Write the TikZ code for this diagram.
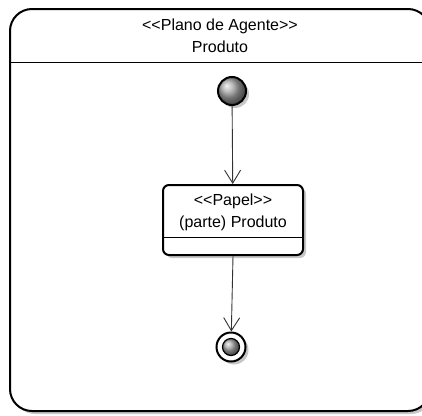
\documentclass[tikz,border=0pt]{standalone}
\usepackage{fontspec}
\setmainfont{Liberation Sans}
\usetikzlibrary{arrows.meta,shadows}
\newcommand{\stereoopen}{\mbox{<}\mbox{<}}
\newcommand{\stereoclose}{\mbox{>}\mbox{>}}

\begin{document}
\begin{tikzpicture}[x=1pt,y=-1pt,
    umltext/.style={font=\fontsize{16}{21.5}\selectfont,text=black,align=center},
    softshadow/.style={drop shadow={shadow xshift=3pt,shadow yshift=-3pt,opacity=0.22,fill=black}},
    flow/.style={draw=black!80,line width=0.9pt,-{Straight Barb[length=13pt,width=16pt,line width=0.9pt]}}]
        \useasboundingbox (0,0) rectangle (422,415);
        \clip (0,0) rectangle (422,415);
        % Agent plan frame
        \draw[line width=2pt,rounded corners=22pt,fill=white,softshadow] (10,9) rectangle (430,411);
        \draw[line width=0.8pt] (10,62) -- (430,62);
        \node[umltext] (plantitle) at (220,36) {\stereoopen Plano de Agente\stereoclose\\Produto};
        % Initial state
        \node[circle,draw,line width=2pt,minimum size=28pt,inner sep=0pt,
            shading=ball,ball color=gray!70,softshadow] (start) at (232,91) {};
        % Papel state
        \node[draw,line width=2pt,rounded corners=6pt,fill=white,softshadow,
            minimum width=140pt,minimum height=70pt] (papel) at (233,220) {};
        \draw[line width=0.8pt] ([yshift=-17pt]papel.west) -- ([yshift=-17pt]papel.east);
        \node[umltext] (papeltext) at (233,212.5) {\stereoopen Papel\stereoclose\\(parte) Produto};
        % Final state
        \node[circle,draw,line width=2pt,minimum size=29pt,inner sep=0pt,
            fill=white,softshadow] (final) at (231,347) {};
        \node[circle,draw,line width=1.2pt,minimum size=17pt,inner sep=0pt,
            shading=ball,ball color=gray!70] (finaldot) at (final) {};
        % Transitions
        \draw[flow] (start) -- (papel);
        \draw[flow] (papel.south) -- (final);
    \end{tikzpicture}
\end{document}
